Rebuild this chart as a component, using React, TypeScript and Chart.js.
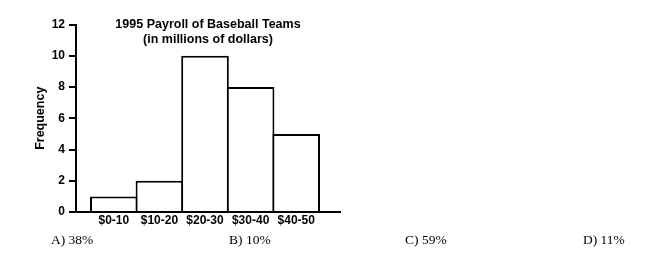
import React, { useEffect, useRef } from "react";
import { Chart, registerables } from "chart.js";

Chart.register(...registerables);

const categories = ["$0-10", "$10-20", "$20-30", "$30-40", "$40-50"];
const binStarts = [0, 10, 20, 30, 40];
const binWidth = 10;
const frequencies = [1, 2, 10, 8, 5];
const yTicks = [0, 2, 4, 6, 8, 10, 12];
const titleLines = ["1995 Payroll of Baseball Teams", "(in millions of dollars)"];
const yAxisTitle = "Frequency";
const answers = ["A) 38%", "B) 10%", "C) 59%", "D) 11%"];
const answerLefts = [51, 229, 405, 583];

const SANS = "'Liberation Sans', Arial, sans-serif";

export default function App() {
  const ref = useRef<HTMLCanvasElement | null>(null);

  useEffect(() => {
    if (!ref.current) return;
    const chart = new Chart(ref.current, {
      type: "bar",
      data: {
        datasets: [
          {
            data: binStarts.map((s, i) => ({ x: s + binWidth / 2, y: frequencies[i] })),
            backgroundColor: "#ffffff",
            borderColor: "#000000",
            borderWidth: 2,
            borderSkipped: "start",
            barPercentage: 1.044,
            categoryPercentage: 1,
          } as any,
        ],
      },
      options: {
        responsive: false,
        animation: false,
        devicePixelRatio: 1,
        layout: { padding: { left: 0, right: 5, top: 0, bottom: 0 } },
        plugins: {
          legend: { display: false },
          tooltip: { enabled: false },
          title: {
            display: true,
            text: titleLines,
            fullSize: false,
            color: "#000",
            font: { family: SANS, size: 12.5, weight: "bold", lineHeight: 1.25 },
            padding: { top: 16.5, bottom: -23.25 },
          },
        },
        scales: {
          x: {
            type: "linear",
            min: -3.29,
            max: 54.6,
            offset: false,
            grid: { display: false, drawTicks: false, offset: false },
            border: { display: true, color: "#000", width: 2 },
            afterBuildTicks: (s: any) => {
              s.ticks = binStarts.map((v) => ({ value: v + binWidth / 2 }));
            },
            ticks: {
              autoSkip: false,
              maxRotation: 0,
              padding: 1.5,
              color: "#000",
              font: { family: SANS, size: 12, weight: "bold" },
              callback: (_v: any, i: number) => categories[i],
            },
            afterFit: (s: any) => {
              s.height = 28;
            },
          },
          y: {
            type: "linear",
            min: 0,
            max: 12,
            afterBuildTicks: (s: any) => {
              s.ticks = yTicks.map((v) => ({ value: v }));
            },
            grid: {
              drawOnChartArea: false,
              drawTicks: true,
              tickLength: 7,
              color: "#000",
              lineWidth: 2,
            },
            border: { display: true, color: "#000", width: 2 },
            ticks: {
              padding: 4,
              color: "#000",
              font: { family: SANS, size: 12, weight: "bold" },
            },
            title: {
              display: true,
              text: yAxisTitle,
              color: "#000",
              font: { family: SANS, size: 12.5, weight: "bold", lineHeight: 1.2 },
              padding: { top: 33, bottom: 0 },
            },
            afterFit: (s: any) => {
              s.width = 76;
            },
          },
        },
      } as any,
    });
    return () => chart.destroy();
  }, []);

  return (
    <div style={{ position: "absolute", left: 0, top: 0, width: 650, height: 259, background: "#fff" }}>
      <canvas ref={ref} width={345} height={240} style={{ position: "absolute", left: 0, top: 0 }} />
      {answers.map((a, i) => (
        <span
          key={a}
          style={{
            position: "absolute",
            left: answerLefts[i],
            top: 232,
            lineHeight: "16px",
            fontFamily: "'Liberation Serif', 'Times New Roman', serif",
            fontSize: 13.5,
            color: "#000",
            whiteSpace: "nowrap",
          }}
        >
          {a}
        </span>
      ))}
    </div>
  );
}
